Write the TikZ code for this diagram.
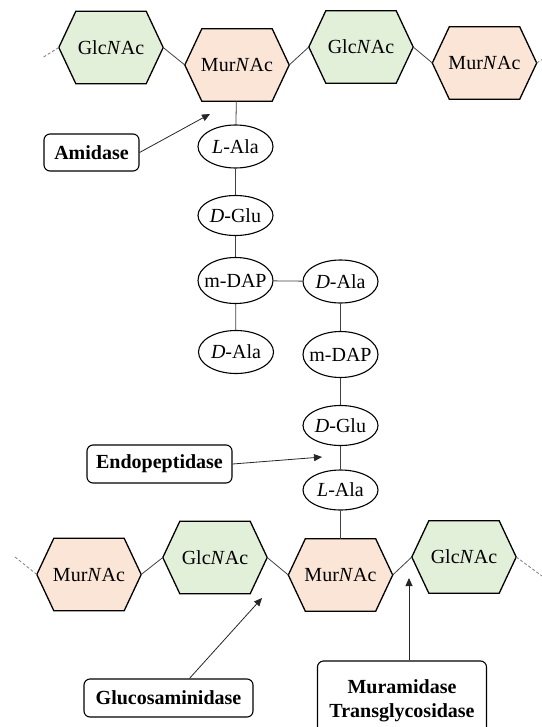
\documentclass[tikz,border=0pt]{standalone}
\usepackage{fontspec}
\setmainfont{Liberation Serif}
\usetikzlibrary{shapes.geometric,arrows.meta,backgrounds,calc}
\definecolor{glcfill}{HTML}{E2EFD9}
\definecolor{murfill}{HTML}{FBE5D6}
\definecolor{linkgray}{HTML}{404040}
\begin{document}
\begin{tikzpicture}[x=1pt,y=-1pt,
  sugar/.style={minimum width=104pt,minimum height=72pt,inner sep=0pt,font=\fontsize{20}{24}\selectfont},
  aa/.style={ellipse,draw,line width=1.1pt,minimum width=75pt,minimum height=43pt,inner sep=0pt,font=\fontsize{20}{24}\selectfont},
  enzyme/.style={draw,rounded corners=6pt,line width=1.1pt,inner sep=0pt,font=\fontsize{20}{24}\selectfont\bfseries,align=center},
  link/.style={draw=linkgray,line width=0.8pt},
  chainend/.style={draw=gray,line width=0.8pt,dash pattern=on 3pt off 2pt},
  arr/.style={draw=black!85,line width=0.8pt,-{Triangle[length=8pt,width=7pt]}},
  hexline/.style={draw=black,line width=1.3pt,line join=miter}
]
\useasboundingbox (0,0) rectangle (541,727);

% sugars
\node[sugar] (g1) at (111,47.5) {Glc\textit{N}Ac};
\node[sugar] (m1) at (237,65) {Mur\textit{N}Ac};
\node[sugar] (g2) at (361,47) {Glc\textit{N}Ac};
\node[sugar] (m2) at (484.5,63) {Mur\textit{N}Ac};
\node[sugar] (m3) at (89,574.5) {Mur\textit{N}Ac};
\node[sugar] (g3) at (215,557.5) {Glc\textit{N}Ac};
\node[sugar] (m4) at (340.5,575) {Mur\textit{N}Ac};
\node[sugar] (g4) at (464,557) {Glc\textit{N}Ac};

\begin{scope}[on background layer]
\foreach \n/\c in {g1/glcfill,m1/murfill,g2/glcfill,m2/murfill,m3/murfill,g3/glcfill,m4/murfill,g4/glcfill}{
  \filldraw[hexline,fill=\c] (\n.west) -- ([xshift=17pt]\n.north west) -- ([xshift=-17pt]\n.north east) -- (\n.east) -- ([xshift=-17pt]\n.south east) -- ([xshift=17pt]\n.south west) -- cycle;
}
\end{scope}

% amino acids
\node[aa] (la1) at (235.5,146.5) {\makebox[0pt]{\textit{L}-Ala}};
\node[aa,minimum height=40pt] (dg1) at (235.5,215.5) {\makebox[0pt]{\textit{D}-Glu}};
\node[aa,minimum height=46pt] (dp1) at (235.5,280.5) {\makebox[0pt]{m-DAP}};
\node[aa] (da1) at (236,352) {\makebox[0pt]{\textit{D}-Ala}};
\node[aa] (da2) at (340.5,281.5) {\makebox[0pt]{\textit{D}-Ala}};
\node[aa,minimum height=46pt] (dp2) at (340.5,354.5) {\makebox[0pt]{m-DAP}};
\node[aa,minimum height=40pt] (dg2) at (340.5,425.5) {\makebox[0pt]{\textit{D}-Glu}};
\node[aa,minimum height=40pt] (la2) at (340.5,490) {\makebox[0pt]{\textit{L}-Ala}};

% glycan links
\draw[link] (g1.east) -- (m1.west);
\draw[link] (m1.east) -- (g2.west);
\draw[link] (g2.east) -- (m2.west);
\draw[link] (m3.east) -- (g3.west);
\draw[link] (g3.east) -- (m4.west);
\draw[link] (m4.east) -- (g4.west);

% peptide links
\draw[link] (m1) -- (la1);
\draw[link] (la1) -- (dg1);
\draw[link] (dg1) -- (dp1);
\draw[link] (dp1) -- (da1);
\draw[link] (dp1) -- (da2);
\draw[link] (da2) -- (dp2);
\draw[link] (dp2) -- (dg2);
\draw[link] (dg2) -- (la2);
\draw[link] (la2) -- (m4);

% chain continuation
\coordinate (e1) at (42,58);
\coordinate (e2) at (546,57);
\coordinate (e3) at (15,557);
\coordinate (e4) at (542,576);
\draw[chainend] (g1.west) -- (e1);
\draw[chainend] (m2.east) -- (e2);
\draw[chainend] (m3.west) -- (e3);
\draw[chainend] (g4.east) -- (e4);

% enzymes
\node[enzyme,minimum width=95pt,minimum height=37pt] (ami) at (91.5,152.5) {Amidase};
\node[enzyme,minimum width=145pt,minimum height=38pt] (endo) at (159.5,464) {Endopeptidase};
\node[enzyme,minimum width=169pt,minimum height=38pt] (gluc) at (168.5,698) {Glucosaminidase};
\node[enzyme,minimum width=169pt,minimum height=80pt] (mura) at (402,701) {Muramidase\\Transglycosidase};

\coordinate (amiT) at (210,114);
\coordinate (endoT) at (322,457);
\coordinate (glucT) at (262,598);
\coordinate (muraT) at (409,578);
\draw[arr] (ami.east) -- (amiT);
\draw[arr] (endo.east) -- (endoT);
\draw[arr] (gluc.43) -- (glucT);
\draw[arr] (mura.north -| muraT) -- (muraT);
\end{tikzpicture}
\end{document}
